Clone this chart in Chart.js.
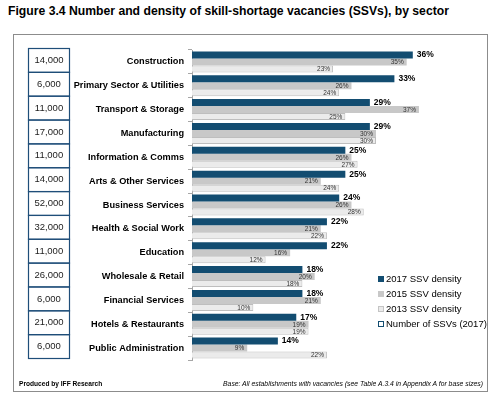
<!DOCTYPE html>
<html>
<head>
<meta charset="utf-8">
<script src="https://cdn.jsdelivr.net/npm/chart.js@4.4.1/dist/chart.umd.min.js"></script>
<style>
  body { margin: 0; background: #fff; font-family: "Liberation Sans", Arial, sans-serif; }
  #wrap   { position: relative; width: 493px; height: 398px; overflow: hidden; }
  #title  { position: absolute; left: 8px; top: 4px; font-size: 12.2px; font-weight: bold; white-space: nowrap; color: #000; }
  #frame  { position: absolute; left: 13px; top: 34px; width: 473px; height: 356px; border: 1px solid #8C8C8C; }
  #chart  { position: absolute; left: 0; top: 0; }
  #legend { position: absolute; left: 378px; top: 270.5px; font-size: 9.5px; color: #000; }
  #legend div { height: 15px; line-height: 15px; white-space: nowrap; }
  #legend span.sw { display: inline-block; width: 6px; height: 6px; margin-right: 2px; box-sizing: border-box; vertical-align: 0; }
  #produced { position: absolute; left: 19px; top: 380px; font-size: 6.6px; font-weight: bold; white-space: nowrap; }
  #base     { position: absolute; right: 10px; top: 380px; font-size: 6.8px; font-style: italic; white-space: nowrap; }
</style>
</head>
<body>
<div id="wrap">
  <div id="title">Figure 3.4 Number and density of skill-shortage vacancies (SSVs), by sector</div>
  <div id="frame"></div>
  <canvas id="chart" width="493" height="398"></canvas>
  <div id="legend"></div>
  <div id="produced">Produced by IFF Research</div>
  <div id="base">Base: All establishments with vacancies (see Table A.3.4 in Appendix A for base sizes)</div>
</div>
<script>
const sectors = [
    'Construction', 'Primary Sector & Utilities', 'Transport & Storage', 'Manufacturing',
    'Information & Comms', 'Arts & Other Services', 'Business Services', 'Health & Social Work',
    'Education', 'Wholesale & Retail', 'Financial Services', 'Hotels & Restaurants', 'Public Administration'
];
const ssvNumbers  = [14000, 6000, 11000, 17000, 11000, 14000, 52000, 32000, 11000, 26000, 6000, 21000, 6000];
const density2017 = [36, 33, 29, 29, 25, 25, 24, 22, 22, 18, 18, 17, 14];
const density2015 = [35, 26, 37, 30, 26, 21, 26, 21, 16, 20, 21, 19, 9];
const density2013 = [23, 24, 25, 30, 27, 24, 28, 22, 12, 18, 10, 19, 22];
const seriesNames = ['2017 SSV density', '2015 SSV density', '2013 SSV density'];
const numberLabel = 'Number of SSVs (2017)';

const NAVY  = '#134D71';
const GREY  = '#C8C8C8';
const LIGHT = '#EBEBEB';

// legend (html)
const legend = document.getElementById('legend');
[[NAVY, NAVY], [GREY, GREY], [LIGHT, '#C4C4C4'], ['#fff', NAVY]].forEach((c, i) => {
    const row = document.createElement('div');
    const sw  = document.createElement('span');
    sw.className = 'sw';
    sw.style.background = c[0];
    sw.style.border = '1px solid ' + c[1];
    row.appendChild(sw);
    row.appendChild(document.createTextNode(i < 3 ? seriesNames[i] : numberLabel));
    legend.appendChild(row);
});

Chart.defaults.font.family = '"Liberation Sans", Arial, sans-serif';

const barLabels = {
    id: 'barLabels',
    afterDatasetsDraw(chart) {
        const ctx = chart.ctx;
        ctx.save();
        ctx.textBaseline = 'middle';
        chart.data.datasets.forEach((ds, i) => {
            chart.getDatasetMeta(i).data.forEach((bar, j) => {
                const txt = ds.data[j] + '%';
                if (i === 0) {
                    ctx.font = 'bold 8.5px "Liberation Sans", Arial, sans-serif';
                    ctx.fillStyle = '#000';
                    ctx.textAlign = 'left';
                    ctx.fillText(txt, bar.x + 4, bar.y);
                } else {
                    ctx.font = '6.5px "Liberation Sans", Arial, sans-serif';
                    ctx.fillStyle = '#333';
                    ctx.textAlign = 'right';
                    ctx.fillText(txt, bar.x - 3, bar.y + 0.5);
                }
            });
        });
        ctx.restore();
    }
};

// boxed column of SSV numbers on the left
const numberTable = {
    id: 'numberTable',
    afterDraw(chart) {
        const ctx = chart.ctx;
        const y = chart.scales.y;
        const band = y.getPixelForValue(1) - y.getPixelForValue(0);
        ctx.save();
        ctx.strokeStyle = '#1F4E79';
        ctx.lineWidth = 1.2;
        ctx.fillStyle = '#222';
        ctx.font = '9.5px "Liberation Sans", Arial, sans-serif';
        ctx.textAlign = 'center';
        ctx.textBaseline = 'middle';
        ssvNumbers.forEach((n, j) => {
            const c = y.getPixelForValue(j) - 1.5;
            ctx.strokeRect(28.5, c - band / 2, 41, band);
            ctx.fillText(n.toLocaleString('en-GB'), 49, c);
        });
        ctx.restore();
    }
};

new Chart(document.getElementById('chart'), {
    type: 'bar',
    data: {
        labels: sectors,
        datasets: [
            { label: seriesNames[0], data: density2017, backgroundColor: NAVY,  borderWidth: 0 },
            { label: seriesNames[1], data: density2015, backgroundColor: GREY,  borderWidth: 0 },
            { label: seriesNames[2], data: density2013, backgroundColor: LIGHT, borderColor: '#BEBEBE', borderWidth: 1 }
        ]
    },
    options: {
        indexAxis: 'y',
        responsive: false,
        animation: false,
        layout: { padding: { left: 0, right: 25, top: 50, bottom: 38 } },
        datasets: { bar: { categoryPercentage: 0.88, barPercentage: 1.0 } },
        plugins: { legend: { display: false }, tooltip: { enabled: false } },
        scales: {
            x: { display: false, min: 0, max: 45 },
            y: {
                grid: { offset: true, drawOnChartArea: false, tickLength: 4, color: '#A6A6A6' },
                border: { color: '#A6A6A6' },
                ticks: { color: '#000', padding: 4, font: { size: 9.2, weight: 'bold' } },
                afterFit(s) { s.width = 192; }
            }
        }
    },
    plugins: [barLabels, numberTable]
});
</script>
</body>
</html>
